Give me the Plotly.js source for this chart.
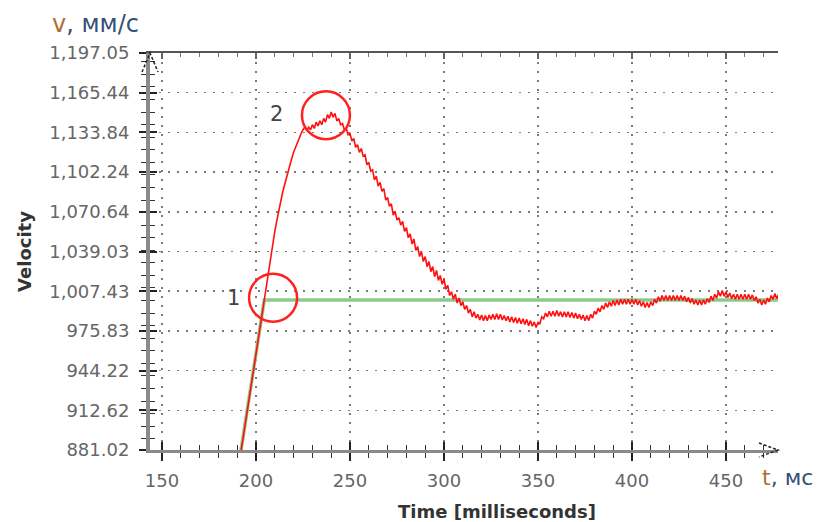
<!DOCTYPE html>
<html>
<head>
<meta charset="utf-8">
<script src="https://cdn.plot.ly/plotly-3.0.1.min.js"></script>
<style>
  html, body { margin: 0; padding: 0; background: #fff; }
  #chart { width: 819px; height: 522px; }
</style>
</head>
<body>
<div id="chart"></div>
<script>
// Measured velocity response, sampled every millisecond
const timeMs = [
  191, 192, 193, 194, 195, 196, 197, 198, 199, 200,
  201, 202, 203, 204, 205, 206, 207, 208, 209, 210,
  211, 212, 213, 214, 215, 216, 217, 218, 219, 220,
  221, 222, 223, 224, 225, 226, 227, 228, 229, 230,
  231, 232, 233, 234, 235, 236, 237, 238, 239, 240,
  241, 242, 243, 244, 245, 246, 247, 248, 249, 250,
  251, 252, 253, 254, 255, 256, 257, 258, 259, 260,
  261, 262, 263, 264, 265, 266, 267, 268, 269, 270,
  271, 272, 273, 274, 275, 276, 277, 278, 279, 280,
  281, 282, 283, 284, 285, 286, 287, 288, 289, 290,
  291, 292, 293, 294, 295, 296, 297, 298, 299, 300,
  301, 302, 303, 304, 305, 306, 307, 308, 309, 310,
  311, 312, 313, 314, 315, 316, 317, 318, 319, 320,
  321, 322, 323, 324, 325, 326, 327, 328, 329, 330,
  331, 332, 333, 334, 335, 336, 337, 338, 339, 340,
  341, 342, 343, 344, 345, 346, 347, 348, 349, 350,
  351, 352, 353, 354, 355, 356, 357, 358, 359, 360,
  361, 362, 363, 364, 365, 366, 367, 368, 369, 370,
  371, 372, 373, 374, 375, 376, 377, 378, 379, 380,
  381, 382, 383, 384, 385, 386, 387, 388, 389, 390,
  391, 392, 393, 394, 395, 396, 397, 398, 399, 400,
  401, 402, 403, 404, 405, 406, 407, 408, 409, 410,
  411, 412, 413, 414, 415, 416, 417, 418, 419, 420,
  421, 422, 423, 424, 425, 426, 427, 428, 429, 430,
  431, 432, 433, 434, 435, 436, 437, 438, 439, 440,
  441, 442, 443, 444, 445, 446, 447, 448, 449, 450,
  451, 452, 453, 454, 455, 456, 457, 458, 459, 460,
  461, 462, 463, 464, 465, 466, 467, 468, 469, 470,
  471, 472, 473, 474, 475, 476, 477, 478
];

const velocity = [
  871, 879, 889, 899, 909, 919, 929, 939, 948, 957,
  967, 977, 986, 996, 1006, 1016, 1026, 1036, 1046, 1055,
  1063, 1071, 1078, 1085, 1091, 1097, 1103, 1108, 1113, 1118,
  1122, 1126, 1130, 1133, 1136, 1138, 1135, 1138, 1136, 1140,
  1137, 1142, 1139, 1143, 1140, 1145, 1142, 1148, 1145, 1150,
  1146, 1149, 1143, 1145, 1140, 1141, 1136, 1137, 1132, 1133,
  1127, 1129, 1122, 1124, 1118, 1121, 1115, 1116, 1108, 1110,
  1103, 1104, 1096, 1099, 1091, 1094, 1087, 1089, 1080, 1082,
  1075, 1077, 1068, 1071, 1064, 1066, 1060, 1063, 1055, 1058,
  1050, 1053, 1045, 1049, 1040, 1043, 1035, 1039, 1031, 1035,
  1027, 1031, 1023, 1027, 1019, 1024, 1016, 1020, 1013, 1017,
  1009, 1012, 1004, 1007, 1001, 1005, 998, 1002, 996, 999,
  993, 996, 990, 993, 987, 991, 986, 989, 984.5, 988.5,
  984, 988, 984, 988.5, 985, 989, 985, 989.5, 985, 989,
  984.5, 988, 984, 987.5, 983, 987, 982.5, 986.5, 982, 986,
  981.5, 985.5, 981, 985, 980, 984, 979.5, 983, 978.5, 982.5,
  981.5, 987, 985.5, 990, 987, 991.5, 987.5, 991.5, 987.5, 992,
  987.5, 991, 987, 991, 987, 991, 986.5, 990.5, 986, 990,
  985.5, 989, 985, 988.5, 984, 988, 984, 989, 986, 991.5,
  989, 994, 991, 996, 993, 998, 994.5, 999, 995.5, 1000,
  996, 1000.5, 996.5, 1001, 997, 1001, 997, 1001, 997, 1001,
  997, 1001, 996.5, 1000, 995.5, 999, 994.5, 998.5, 994.5, 999,
  996, 1001, 998, 1003, 999.5, 1004, 1000, 1004, 1000, 1004,
  1000, 1004, 1000, 1004, 1000, 1004, 1000, 1003.5, 999, 1002.5,
  998, 1001.5, 997, 1000.5, 996.5, 1000.5, 996.5, 1000.5, 997, 1001.5,
  998.5, 1003.5, 1000, 1005, 1002, 1007, 1003.5, 1008, 1003.5, 1007,
  1002.5, 1006, 1001.5, 1005, 1001, 1005, 1001, 1005, 1001, 1005,
  1001, 1005, 1001, 1004.5, 1000, 1003, 998, 1001, 996.5, 1000.5,
  997, 1002, 999, 1004, 1001, 1005.5, 1001.5, 1005
];

// Reference (set-point) trajectory: ramp, then constant level
const setpointT = [191, 204.4, 478];
const setpointV = [871, 1000.4, 1000.4];

// Axis ticks
const xTickVals = [150, 200, 250, 300, 350, 400, 450];
const xTickText = ['150', '200', '250', '300', '350', '400', '450'];
const yTickVals = [881.02, 912.62, 944.22, 975.83, 1007.43, 1039.03, 1070.64, 1102.24, 1133.84, 1165.44, 1197.05];
const yTickText = ['881.02', '912.62', '944.22', '975.83', '1,007.43', '1,039.03', '1,070.64', '1,102.24', '1,133.84', '1,165.44', '1,197.05'];

// Highlighted points: 1 = reaching the set level, 2 = overshoot peak
const markT = [209.1, 237.2];
const markV = [1002.2, 1147.5];
const markText = ['1', '2'];

const xRange = [143.62, 477.66];
const yRange = [881.02, 1197.05];

const tickFont = { family: 'DejaVu Sans', size: 18, color: '#666666' };
const gridDash = '1.5px,7.5px';

const traces = [
  {
    x: setpointT, y: setpointV, type: 'scatter', mode: 'lines',
    line: { color: 'rgb(140,202,140)', width: 3.5 },
    hoverinfo: 'skip', showlegend: false
  },
  {
    x: timeMs, y: velocity, type: 'scatter', mode: 'lines',
    line: { color: '#ff1010', width: 1.6 },
    showlegend: false
  },
  // empty traces that register the overlay tick axes
  { x: [], y: [], xaxis: 'x2', yaxis: 'y', type: 'scatter', showlegend: false },
  { x: [], y: [], xaxis: 'x3', yaxis: 'y', type: 'scatter', showlegend: false },
  { x: [], y: [], xaxis: 'x', yaxis: 'y2', type: 'scatter', showlegend: false }
];

const minorTicks = (dir, len, color) => ({
  tickmode: 'linear', tick0: 0, dtick: 10, ticks: dir, ticklen: len,
  tickwidth: 1, tickcolor: color, showgrid: false
});

const layout = {
  width: 819, height: 522,
  margin: { l: 150, r: 41, t: 53, b: 72, pad: 0 },
  paper_bgcolor: '#ffffff', plot_bgcolor: '#ffffff',
  showlegend: false,
  xaxis: {
    range: xRange, fixedrange: true,
    showline: true, linecolor: '#8a8a8a', linewidth: 3,
    ticks: 'outside', ticklen: 8, tickwidth: 1.5, tickcolor: '#222',
    tickmode: 'array', tickvals: xTickVals, ticktext: xTickText,
    tickfont: tickFont, ticklabelstandoff: 4,
    showgrid: true, gridcolor: '#7a7a7a', gridwidth: 1.5, griddash: gridDash,
    zeroline: false,
    minor: minorTicks('outside', 5, '#333')
  },
  xaxis2: {
    overlaying: 'x', anchor: 'y', side: 'bottom', range: xRange, fixedrange: true,
    showline: false, ticks: 'inside', ticklen: 8, tickwidth: 1.5, tickcolor: '#222',
    tickmode: 'array', tickvals: xTickVals, showticklabels: false,
    showgrid: false, zeroline: false,
    minor: minorTicks('inside', 5, '#333')
  },
  xaxis3: {
    overlaying: 'x', anchor: 'y', side: 'top', range: xRange, fixedrange: true,
    showline: true, linecolor: '#555', linewidth: 2,
    ticks: 'inside', ticklen: 6, tickwidth: 1.5, tickcolor: '#666',
    tickmode: 'array', tickvals: xTickVals, showticklabels: false,
    showgrid: false, zeroline: false,
    minor: minorTicks('inside', 4, '#777')
  },
  yaxis: {
    range: yRange, fixedrange: true,
    showline: true, linecolor: '#8a8a8a', linewidth: 4,
    ticks: 'outside', ticklen: 7, tickwidth: 2, tickcolor: '#222',
    tickmode: 'array', tickvals: yTickVals, ticktext: yTickText,
    tickfont: tickFont, ticklabelstandoff: 6,
    showgrid: true, gridcolor: '#7a7a7a', gridwidth: 1.5, griddash: gridDash,
    zeroline: false,
    minor: minorTicks('outside', 5, '#333'),
    title: {
      text: 'Velocity', standoff: 14,
      font: { family: 'DejaVu Sans', size: 18, color: '#333', weight: 700 }
    }
  },
  yaxis2: {
    overlaying: 'y', anchor: 'x', side: 'left', range: yRange, fixedrange: true,
    showline: false, ticks: 'inside', ticklen: 7, tickwidth: 2, tickcolor: '#222',
    tickmode: 'array', tickvals: yTickVals, showticklabels: false,
    showgrid: false, zeroline: false,
    minor: minorTicks('inside', 5, '#333')
  },
  shapes: [
    // arrow heads at the ends of the axes
    {
      type: 'path', xref: 'paper', yref: 'paper', xsizemode: 'pixel', ysizemode: 'pixel',
      xanchor: 0, yanchor: 1, path: 'M -8 -19 L 0 0 L 8 -19',
      line: { color: '#222', width: 1.5, dash: '3px,2px' }
    },
    {
      type: 'path', xref: 'paper', yref: 'paper', xsizemode: 'pixel', ysizemode: 'pixel',
      xanchor: 1, yanchor: 0, path: 'M -19 7 L 0 0 L -19 -7',
      line: { color: '#222', width: 1.5, dash: '3px,2px' }
    }
  ],
  annotations: [
    {
      xref: 'paper', yref: 'paper', x: 0.5525, y: -0.156, xanchor: 'center', yanchor: 'middle',
      text: 'Time [milliseconds]', showarrow: false,
      font: { family: 'DejaVu Sans', size: 18, color: '#333', weight: 700 }
    },
    {
      xref: 'paper', yref: 'paper', x: -0.159, y: 1.073, xanchor: 'left', yanchor: 'middle',
      text: '<span style="color:#b07030">v</span>, мм/с', showarrow: false,
      font: { family: 'DejaVu Sans', size: 24, color: '#35507a' }
    },
    {
      xref: 'paper', yref: 'paper', x: 0.9715, y: -0.0705, xanchor: 'left', yanchor: 'middle',
      text: '<span style="color:#b07030">t</span>, мс', showarrow: false,
      font: { family: 'DejaVu Sans', size: 22, color: '#35507a' }
    }
  ]
};

// circles and number labels around the highlighted points
const labelShift = [[-40, 0], [-49, 1]];
markT.forEach((t, i) => {
  layout.shapes.push({
    type: 'circle', xref: 'x', yref: 'y', xsizemode: 'pixel', ysizemode: 'pixel',
    xanchor: t, yanchor: markV[i], x0: -24, x1: 24, y0: -24, y1: 24,
    line: { color: '#ff2020', width: 2.5 }
  });
  layout.annotations.push({
    xref: 'x', yref: 'y', x: t, y: markV[i], text: markText[i], showarrow: false,
    xshift: labelShift[i][0], yshift: labelShift[i][1],
    font: { family: 'DejaVu Sans', size: 21, color: '#444' }
  });
});

Plotly.newPlot('chart', traces, layout, { displayModeBar: false, staticPlot: true });
</script>
</body>
</html>
